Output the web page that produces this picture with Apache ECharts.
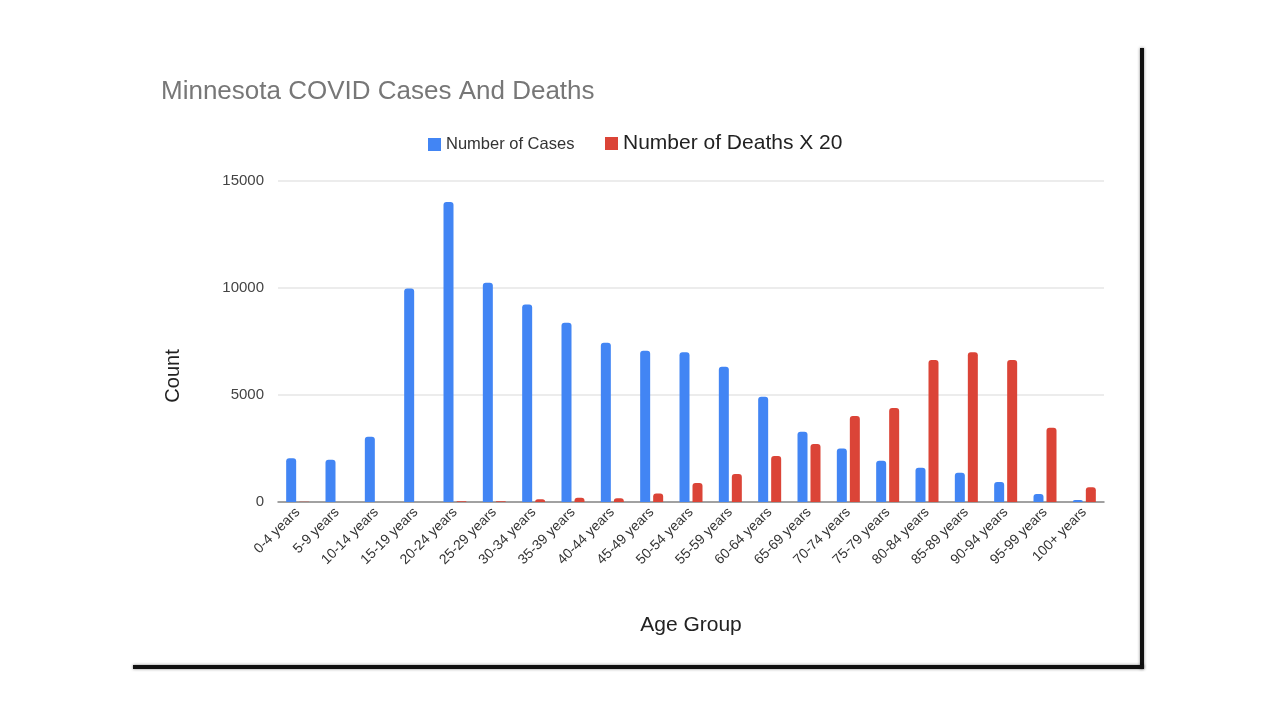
<!DOCTYPE html>
<html>
<head>
<meta charset="utf-8">
<script src="https://cdn.jsdelivr.net/npm/echarts@6/dist/echarts.min.js"></script>
<style>
html,body{margin:0;padding:0;background:#fff;}
#main{width:1280px;height:720px;}
</style>
</head>
<body>
<div id="main"></div>
<script>
const categories = ['0-4 years','5-9 years','10-14 years','15-19 years','20-24 years','25-29 years','30-34 years','35-39 years','40-44 years','45-49 years','50-54 years','55-59 years','60-64 years','65-69 years','70-74 years','75-79 years','80-84 years','85-89 years','90-94 years','95-99 years','100+ years'];
const cases = [2050, 1980, 3050, 9980, 14020, 10240, 9230, 8380, 7440, 7070, 7000, 6320, 4920, 3280, 2500, 1930, 1600, 1370, 930, 370, 90];
const deathsX20 = [15, 0, 0, 0, 30, 30, 125, 200, 170, 400, 890, 1310, 2150, 2710, 4020, 4390, 6630, 7000, 6630, 3470, 690];
const yTicks = [0, 5000, 10000, 15000];

const chart = echarts.init(document.getElementById('main'));
const font = 'Arial, "Liberation Sans", sans-serif';
chart.setOption({
  backgroundColor: '#ffffff',
  animation: false,
  textStyle: { fontFamily: font },
  title: {
    text: 'Minnesota COVID Cases And Deaths',
    left: 156, top: 74,
    textStyle: { fontFamily: font, fontSize: 26, fontWeight: 'normal', color: '#777777' }
  },
  legend: [
    {
      data: ['Number of Cases'],
      left: 423, top: 131,
      icon: 'rect', itemWidth: 13, itemHeight: 13, itemGap: 12,
      textStyle: { fontFamily: font, fontSize: 16.5, color: '#333' }
    },
    {
      data: ['Number of Deaths X 20'],
      left: 600, top: 128,
      icon: 'rect', itemWidth: 13, itemHeight: 13, itemGap: 12,
      textStyle: { fontFamily: font, fontSize: 21, color: '#222' }
    }
  ],
  grid: { left: 278, right: 176, top: 181, height: 321, containLabel: false },
  xAxis: {
    type: 'category',
    data: categories,
    name: 'Age Group',
    nameLocation: 'middle',
    nameGap: 113,
    nameTextStyle: { fontFamily: font, fontSize: 21, color: '#222' },
    axisLine: { lineStyle: { color: '#888', width: 1.5 } },
    axisTick: { show: false },
    axisLabel: { rotate: 45, fontSize: 14, color: '#333', margin: 8, interval: 0 }
  },
  yAxis: {
    type: 'value',
    min: 0, max: 15000, interval: 5000,
    axisLine: { show: false },
    axisTick: { show: false },
    axisLabel: { fontSize: 15, color: '#444', margin: 14,
      formatter: v => yTicks.includes(v) ? String(v) : '' },
    splitLine: { lineStyle: { color: '#e6e6e6', width: 1.5 } }
  },
  series: [
    {
      name: 'Number of Cases', type: 'bar', data: cases,
      barWidth: 10, barGap: '30%',
      itemStyle: { color: '#4285F4', borderRadius: [3, 3, 0, 0] }
    },
    {
      name: 'Number of Deaths X 20', type: 'bar', data: deathsX20,
      barWidth: 10,
      itemStyle: { color: '#DB4437', borderRadius: [3, 3, 0, 0] }
    }
  ],
  graphic: [
    { type: 'text', x: 173, y: 376, rotation: Math.PI / 2,
      style: { text: 'Count', fontFamily: font, fontSize: 20, fill: '#222',
        align: 'center', verticalAlign: 'middle' } },
    { type: 'rect', shape: { x: 1140, y: 48, width: 4, height: 621 },
      style: { fill: '#111', shadowBlur: 3, shadowColor: 'rgba(0,0,0,0.5)' } },
    { type: 'rect', shape: { x: 133, y: 665, width: 1011, height: 4 },
      style: { fill: '#111', shadowBlur: 3, shadowColor: 'rgba(0,0,0,0.5)' } }
  ]
});
</script>
</body>
</html>
